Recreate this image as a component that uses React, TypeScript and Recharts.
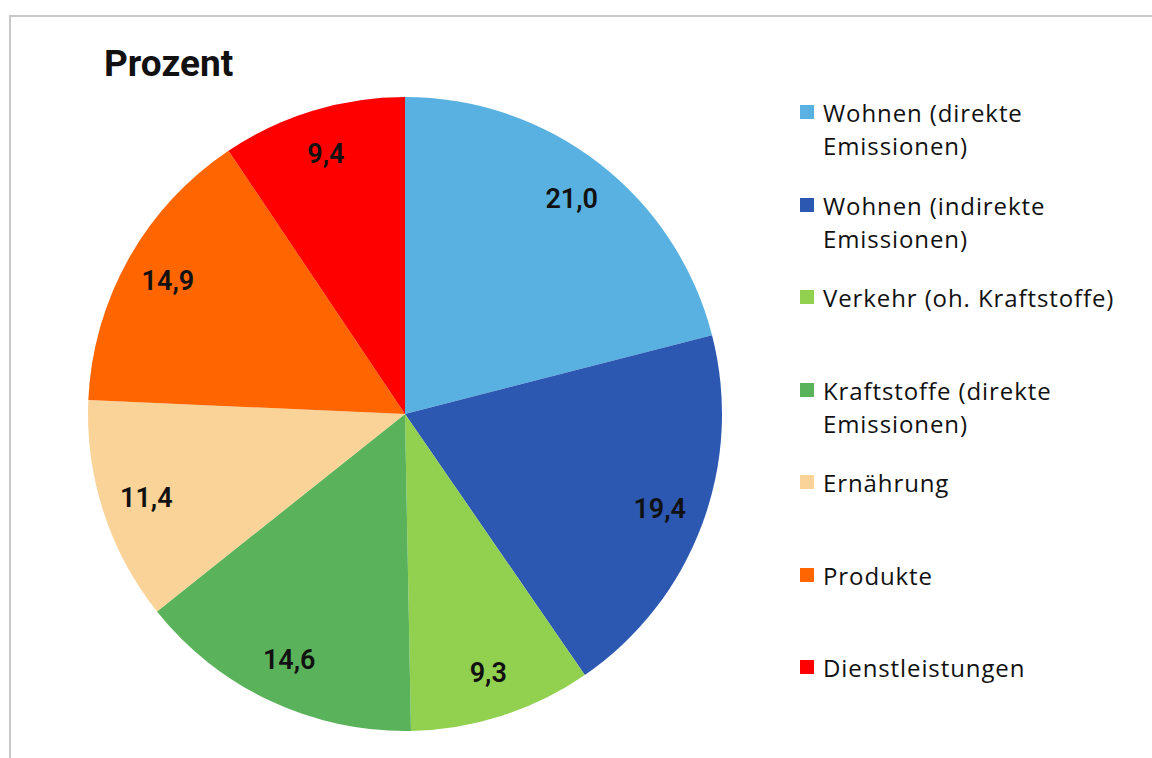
import { PieChart, Pie, Cell, Legend } from "recharts"

// Anteile in Prozent
const categories = [
    "Wohnen (direkte Emissionen)",
    "Wohnen (indirekte Emissionen)",
    "Verkehr (oh. Kraftstoffe)",
    "Kraftstoffe (direkte Emissionen)",
    "Ernährung",
    "Produkte",
    "Dienstleistungen",
]
const shares = [21.0, 19.4, 9.3, 14.6, 11.4, 14.9, 9.4]
const colors = ["#58B1E0", "#2C58B2", "#92D050", "#5AB35B", "#FAD398", "#FF6600", "#FF0000"]

const data = categories.map((name, i) => ({ name, value: shares[i] }))

const RAD = Math.PI / 180

const renderLabel = (props: any) => {
    const { cx, cy, midAngle, value } = props
    const r = 272
    const x = cx + r * Math.cos(-midAngle * RAD)
    const y = cy + r * Math.sin(-midAngle * RAD)
    return (
        <text
            x={x}
            y={y}
            fill="#111"
            textAnchor="middle"
            dominantBaseline="central"
            fontFamily="Roboto"
            fontWeight={600}
            fontSize={27}
        >
            {value.toFixed(1).replace(".", ",")}
        </text>
    )
}

const renderLegend = () => (
    <div style={{ fontFamily: "'Open Sans'", fontSize: 24, letterSpacing: 0.9, color: "#111" }}>
        {data.map((d, i) => (
            <div key={d.name} style={{ height: 92.5, display: "flex", alignItems: "flex-start" }}>
                <span
                    style={{
                        display: "inline-block",
                        width: 14,
                        height: 14,
                        background: colors[i],
                        marginTop: 9,
                        marginRight: 9,
                        flex: "none",
                    }}
                />
                <span style={{ lineHeight: "33px", width: 300 }}>{d.name}</span>
            </div>
        ))}
    </div>
)

export default function App() {
    return (
        <div style={{ position: "fixed", left: 0, top: 0, width: 1152, height: 758, background: "#fff", overflow: "hidden" }}>
            {/* Rahmen oben und links */}
            <svg width={1152} height={758} style={{ position: "absolute", left: 0, top: 0 }}>
                <path d="M10 758 V16 H1152" fill="none" stroke="#C8C8C8" strokeWidth={2} />
            </svg>
            <div
                style={{
                    position: "absolute",
                    left: 104,
                    top: 42,
                    fontFamily: "Roboto",
                    fontWeight: 700,
                    fontSize: 37,
                    color: "#111",
                }}
            >
                Prozent
            </div>
            <div style={{ position: "absolute", left: 0, top: 0 }}>
                <PieChart width={1100} height={758} margin={{ top: 0, right: 0, bottom: 0, left: 0 }}>
                    <Pie
                        data={data}
                        dataKey="value"
                        nameKey="name"
                        cx={405}
                        cy={414}
                        outerRadius={317}
                        startAngle={90}
                        endAngle={-270}
                        stroke="none"
                        label={renderLabel}
                        labelLine={false}
                        isAnimationActive={false}
                    >
                        {data.map((d, i) => (
                            <Cell key={d.name} fill={colors[i]} />
                        ))}
                    </Pie>
                    <Legend
                        layout="vertical"
                        content={renderLegend}
                        wrapperStyle={{ left: 800, top: 96, width: 330 }}
                    />
                </PieChart>
            </div>
        </div>
    )
}
